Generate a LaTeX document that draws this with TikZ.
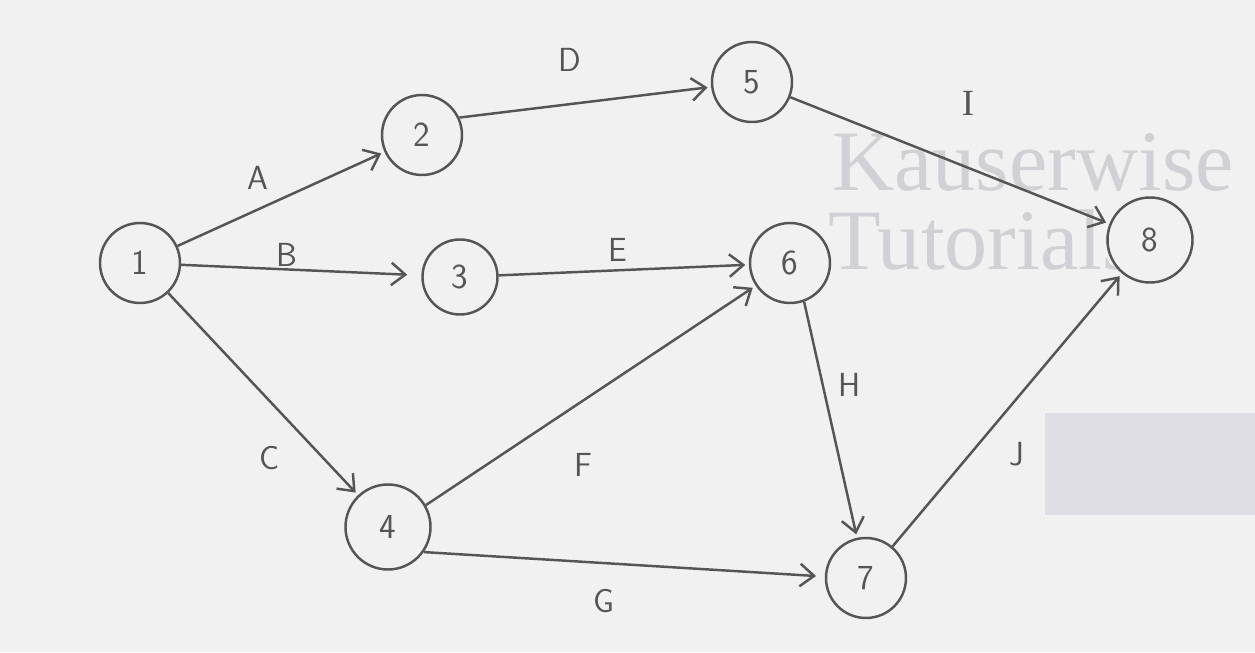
\documentclass[tikz,border=0pt]{standalone}
\usepackage{fontspec}
\usetikzlibrary{arrows.meta}

\newfontfamily\wmfont{Liberation Serif}

\definecolor{pen}{HTML}{555555}
\definecolor{paper}{HTML}{F1F1F1}
\definecolor{wmark}{HTML}{D1D1D5}
\definecolor{patch}{HTML}{DEDEE4}

\begin{document}
\begin{tikzpicture}[
    event/.style={
        draw=pen,
        circle,
        line width=1.4pt,
        minimum size=1.6cm,
        inner sep=0pt,
        text=pen,
        font=\sffamily\fontsize{20}{24}\selectfont
    },
    act/.style={
        text=pen,
        font=\sffamily\fontsize{19}{22}\selectfont
    },
    arrow/.style={
        -{Straight Barb[length=2.8mm, width=4.5mm]},
        draw=pen,
        line width=1.4pt,
        shorten >=2pt
    },
    watermark/.style={
        text=wmark,
        anchor=base west,
        inner sep=0pt,
        font=\wmfont\fontsize{49}{52}\selectfont
    }
]

% paper and frame
\useasboundingbox[fill=paper] (0,0) rectangle (25.1,13.04);
\fill[patch] (20.9,2.74) rectangle (25.1,4.78);

% watermark
\node[watermark] (wm1) at (16.64,9.22) {Kauserwise};
\node[watermark] (wm2) at (16.56,7.64) {Tutorials};

% events
\node[event] (n1) at (2.80,7.78) {1};
\node[event] (n2) at (8.44,10.34) {2};
\node[event, minimum size=1.5cm] (n3) at (9.20,7.50) {3};
\node[event, minimum size=1.7cm] (n4) at (7.76,2.50) {4};
\node[event] (n5) at (15.04,11.40) {5};
\node[event] (n6) at (15.80,7.78) {6};
\node[event] (n7) at (17.32,1.48) {7};
\node[event, fill=paper, minimum size=1.7cm] (n8) at (23.00,8.24) {8};

% activities
\draw[arrow] (n1) -- (n2);
\draw[arrow, shorten >=8pt] (n1) -- (n3);
\draw[arrow] (n1) -- (n4);
\draw[arrow] (n2.25) -- (n5);
\draw[arrow] (n3) -- (n6);
\draw[arrow] (n4.30) -- (n6);
\draw[arrow, shorten >=5pt] (n4.-35) -- (n7.178);
\draw[arrow] (n6.-70) -- (n7);
\draw[arrow] (n5) -- (n8);
\draw[arrow] (n7) -- (n8);

% activity labels
\node[act] (lA) at (5.16,9.48) {A};
\node[act] (lB) at (5.74,7.94) {B};
\node[act] (lC) at (5.40,3.88) {C};
\node[act] (lD) at (11.40,11.84) {D};
\node[act] (lE) at (12.36,8.04) {E};
\node[act] (lF) at (11.66,3.74) {F};
\node[act] (lG) at (12.08,1.02) {G};
\node[act] (lH) at (17.00,5.34) {H};
\node[act, font=\wmfont\fontsize{21}{24}\selectfont] (lI) at (19.36,10.98) {I};
\node[act] (lJ) at (20.34,3.96) {J};

\end{tikzpicture}
\end{document}
